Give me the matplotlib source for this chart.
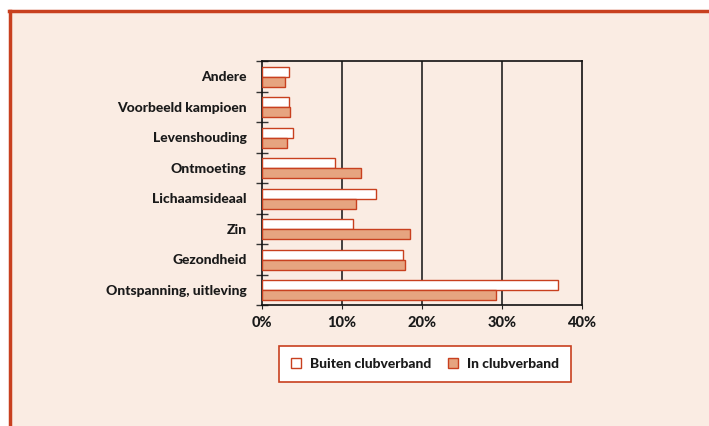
import matplotlib
matplotlib.use("Agg")
import matplotlib.pyplot as plt
from matplotlib.patches import Rectangle, Patch
from matplotlib.lines import Line2D
from matplotlib import font_manager
import numpy as np

categories = ["Andere", "Voorbeeld kampioen", "Levenshouding", "Ontmoeting",
              "Lichaamsideaal", "Zin", "Gezondheid", "Ontspanning, uitleving"]
buiten = [3.35, 3.35, 3.9, 9.15, 14.3, 11.4, 17.6, 37.0]
in_club = [2.85, 3.5, 3.1, 12.4, 11.8, 18.5, 17.85, 29.2]
xticks = [0, 10, 20, 30, 40]
xticklabels = ["0%", "10%", "20%", "30%", "40%"]
series_names = ["Buiten clubverband", "In clubverband"]

plt.rcParams['font.family'] = ['Lato', 'DejaVu Sans']
lato_weights = {f.weight for f in font_manager.fontManager.ttflist if f.name == "Lato"}
WT = 900 if 900 in lato_weights else "bold"

RED = "#C8401F"
SALMON = "#E6A480"
BG = "#FAECE3"

W, H = 709, 426
fig = plt.figure(figsize=(W/100, H/100), dpi=100, facecolor="white")
fig.patches.append(Rectangle((10/W, 0), 1, 1 - 11/H, transform=fig.transFigure,
                             facecolor=BG, edgecolor="none", zorder=-10))
fig.lines.append(Line2D([9/W, 1], [1 - 11/H, 1 - 11/H], transform=fig.transFigure,
                        color=RED, lw=2.5, zorder=-5))
fig.lines.append(Line2D([9.5/W, 9.5/W], [0, 1 - 11/H], transform=fig.transFigure,
                        color=RED, lw=2.5, zorder=-5))

ax = fig.add_axes([262/W, 1 - 305/H, 320/W, 244/H])
ax.set_facecolor("none")
y = np.arange(len(categories))
h = 0.33
off = 0.02
ax.barh(y - h/2 + off, buiten, height=h, color="white", edgecolor=RED, lw=1, zorder=3)
ax.barh(y + h/2 + off, in_club, height=h, color=SALMON, edgecolor=RED, lw=1, zorder=3)
ax.set_ylim(len(categories) - 0.5, -0.5)
ax.set_xlim(0, 40)

ax.set_yticks(y)
ax.set_yticklabels(categories, fontsize=10, fontweight=WT, color="#1a1a1a")
ax.tick_params(axis="y", which="major", length=0, pad=11)
ax.set_yticks(np.arange(len(categories) + 1) - 0.5, minor=True)
ax.tick_params(axis="y", which="minor", length=8, direction="inout", width=1, color="#333333")

ax.set_xticks(xticks)
ax.set_xticklabels(xticklabels, fontsize=10.5, fontweight=WT, color="#1a1a1a")
ax.tick_params(axis="x", length=3, direction="out", color="#222222", pad=5)
for xv in xticks[1:-1]:
    ax.axvline(xv, color="#222222", lw=1.2, zorder=2)
for s in ax.spines.values():
    s.set_color("#111111")
    s.set_linewidth(1.2)

handles = [Patch(facecolor="white", edgecolor=RED, label=series_names[0]),
           Patch(facecolor=SALMON, edgecolor=RED, label=series_names[1])]
leg = fig.legend(handles=handles, loc="center", bbox_to_anchor=(425/W, 1 - 364/H),
                 ncol=2, frameon=True, fancybox=False, framealpha=1,
                 handlelength=0.75, handleheight=0.75,
                 columnspacing=1.2, handletextpad=0.65, borderpad=0.85,
                 prop={"weight": WT, "size": 10})
for t in leg.get_texts():
    t.set_color("#1a1a1a")
leg.get_frame().set_edgecolor(RED)
leg.get_frame().set_linewidth(1.2)
leg.get_frame().set_facecolor("white")

fig.savefig("out.png", dpi=100, facecolor="white")
